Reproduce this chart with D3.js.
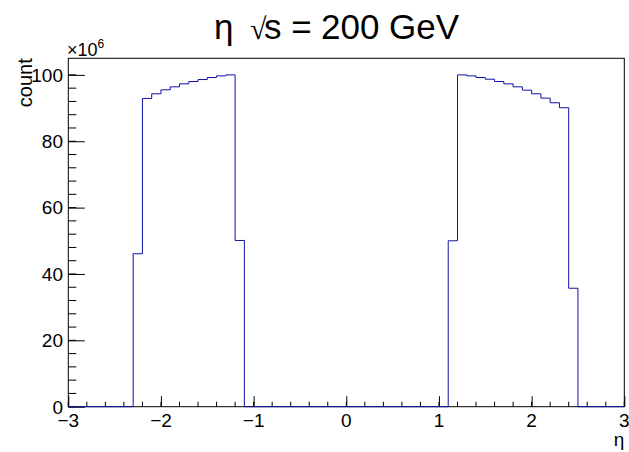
<!DOCTYPE html>
<html><head><meta charset="utf-8">
<script src="https://cdn.jsdelivr.net/npm/d3@7"></script>
<style>body{margin:0;background:#fff}svg{display:block}text{font-family:"Liberation Sans",Arial,sans-serif}</style>
</head><body>
<svg id="c" width="629" height="452"></svg>
<script>
// Histogram definition
const xRange = [-3, 3];
const binWidth = 0.1;
// Non-empty bins: lower edges (eta) and counts (x10^6)
const binLowEdges = [-2.3,-2.2,-2.1,-2.0,-1.9,-1.8,-1.7,-1.6,-1.5,-1.4,-1.3,-1.2,
                      1.1, 1.2, 1.3, 1.4, 1.5, 1.6, 1.7, 1.8, 1.9, 2.0, 2.1, 2.2, 2.3, 2.4];
const binCounts = [46.1,92.9,94.3,95.5,96.4,97.3,98.0,98.6,99.2,99.7,100.0,50.1,
                   50.0,100.0,99.7,99.2,98.7,98.0,97.3,96.4,95.4,94.3,93.0,91.6,90.1,35.7];
const xTicks = [-3,-2,-1,0,1,2,3];
const yTicks = [0,20,40,60,80,100];
const yMax = 105;

const svg = d3.select("#c");
const L = 68.3, R = 624.3, T = 58.3, B = 406.7;
const x = d3.scaleLinear().domain(xRange).range([L, R]);
const y = d3.scaleLinear().domain([0, yMax]).range([B, T]);

// build full bin list
const nb = Math.round((xRange[1]-xRange[0])/binWidth);
const pts = [];
for (let i = 0; i < nb; i++) {
  const lo = xRange[0] + i*binWidth;
  const k = binLowEdges.findIndex(e => Math.abs(e - lo) < 1e-6);
  pts.push([lo, k >= 0 ? binCounts[k] : 0]);
}
pts.push([xRange[1], pts[pts.length-1][1]]);

// frame
svg.append("rect").attr("x", L).attr("y", T).attr("width", R-L).attr("height", B-T)
  .attr("fill", "none").attr("stroke", "#000").attr("stroke-width", 1);

// x axis ticks (inward, up)
const xMinor = d3.range(-3, 3.0001, 0.2);
svg.append("g").selectAll("line").data(xMinor).join("line")
  .attr("x1", d => x(d)).attr("x2", d => x(d)).attr("y1", B).attr("y2", B-5)
  .attr("stroke", "#000");
const xAx = svg.append("g").attr("transform", `translate(0,${B})`)
  .call(d3.axisTop(x).tickValues(xTicks).tickSize(10.5));
xAx.select(".domain").remove();
xAx.selectAll("text").remove();
svg.append("g").selectAll("text").data(xTicks).join("text")
  .attr("x", d => x(d)).attr("y", 427).attr("text-anchor", "middle")
  .attr("font-size", 19).text(d => d < 0 ? "\u2212" + Math.abs(d) : d);

// y axis ticks (inward, right)
const yMinor = d3.range(0, 101, 4);
svg.append("g").selectAll("line").data(yMinor).join("line")
  .attr("x1", L).attr("x2", L+8).attr("y1", d => y(d)).attr("y2", d => y(d))
  .attr("stroke", "#000");
const yAx = svg.append("g").attr("transform", `translate(${L},0)`)
  .call(d3.axisRight(y).tickValues(yTicks).tickSize(16.5));
yAx.select(".domain").remove();
yAx.selectAll("text").remove();
svg.append("g").selectAll("text").data(yTicks).join("text")
  .attr("x", 63).attr("y", d => y(d)).attr("dy", "0.36em").attr("text-anchor", "end")
  .attr("font-size", 19).text(d => d);

// histogram
svg.append("path").datum(pts)
  .attr("d", d3.line().x(d => x(d[0])).y(d => y(d[1])).curve(d3.curveStepAfter))
  .attr("fill", "none").attr("stroke", "#1010a8").attr("stroke-width", 1);

// x10^6
const mult = svg.append("text").attr("x", 67).attr("y", 56).attr("font-size", 18);
mult.append("tspan").text("\u00d710");
mult.append("tspan").attr("dy", -8).attr("font-size", 12).text("6");

// axis titles
svg.append("text").attr("transform", `translate(32,${T}) rotate(-90)`)
  .attr("text-anchor", "end").attr("font-size", 20).text("count");
svg.append("text").attr("x", R).attr("y", 446).attr("text-anchor", "end")
  .attr("font-size", 19).text("\u03b7");

// title
const title = svg.append("text").attr("y", 39).attr("font-size", 35);
title.append("tspan").attr("x", 214).text("\u03b7");
title.append("tspan").attr("x", 250).attr("font-size", 30).attr("font-family", "DejaVu Sans").attr("font-weight", 200).text("\u221a");
title.append("tspan").attr("x", 264).text("s =");
title.append("tspan").attr("x", 321).text("200 GeV");
</script>
</body></html>
